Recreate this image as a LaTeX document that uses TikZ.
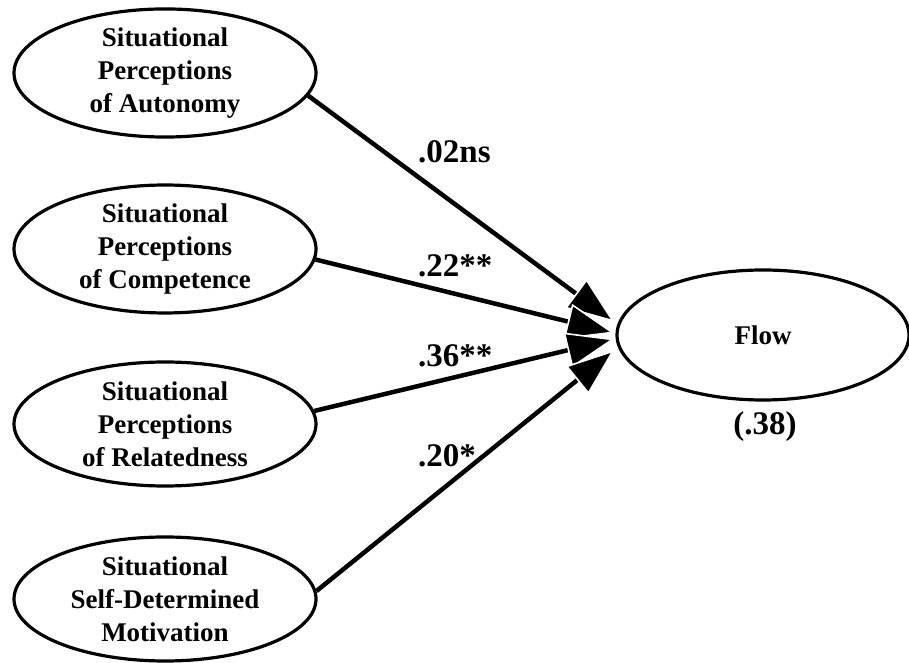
\documentclass[tikz,border=0pt]{standalone}
\usepackage{fontspec}
\setmainfont{Liberation Serif}
\usetikzlibrary{shapes.geometric,arrows.meta,backgrounds}
\begin{document}
\begin{tikzpicture}[x=1pt,y=1pt,
  latent/.style={ellipse,draw,line width=3.2pt,minimum width=302pt,minimum height=124pt,
    inner sep=0pt,align=center,font=\fontsize{27}{33}\selectfont\bfseries},
  effect/.style={line width=4.5pt,
    -{Triangle[length=48pt,width=36pt,color=white,fill=black,line width=1.6pt]}},
  coef/.style={anchor=base west,inner sep=0pt,font=\fontsize{33}{40}\selectfont\bfseries}]
\useasboundingbox (0,0) rectangle (909,663);

% predictors
\node[latent] (aut) at (165,590) {Situational\\Perceptions\\of Autonomy};
\node[latent] (com) at (165,414) {Situational\\Perceptions\\of Competence};
\node[latent] (rel) at (165,239) {Situational\\Perceptions\\of Relatedness};
\node[latent] (sdm) at (165,64) {Situational\\Self-Determined\\Motivation};

% outcome
\node[latent,minimum width=292pt,minimum height=130pt] (flow) at (763,328) {Flow};
\node[inner sep=0pt,font=\fontsize{33}{40}\selectfont\bfseries] (r2) at (765,236) {(.38)};

% arrow tips meeting at the left of the outcome
\coordinate (t1) at ([shift={(-1,13)}]flow.west);
\coordinate (t2) at ([shift={(-1,2)}]flow.west);
\coordinate (t3) at ([shift={(-1,-4)}]flow.west);
\coordinate (t4) at ([shift={(-1,-15)}]flow.west);

\begin{scope}[on background layer]
\draw[effect] (aut.-9) -- (t1);
\draw[effect] (com.-4) -- (t2);
\draw[effect] (rel.5) -- (t3);
\draw[effect] (sdm.3) -- (t4);
\end{scope}

% path coefficients
\node[coef] (c1) at (418,500) {.02ns};
\node[coef] (c2) at (418,386) {.22**};
\node[coef] (c3) at (418,296) {.36**};
\node[coef] (c4) at (418,196) {.20*};
\end{tikzpicture}
\end{document}
